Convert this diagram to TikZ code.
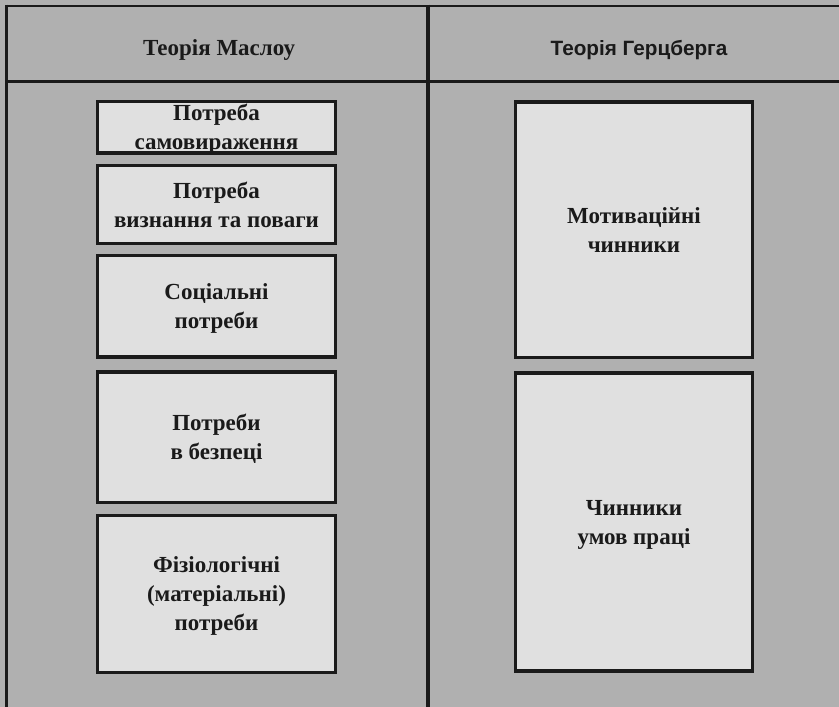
\documentclass[tikz,border=0pt]{standalone}
\usepackage{fontspec}
\setmainfont{Liberation Serif}
\newfontfamily\hsans{Liberation Sans}
\definecolor{bgc}{HTML}{B0B0B0}
\definecolor{boxc}{HTML}{E0E0E0}
\definecolor{linec}{HTML}{1A1A1A}
\tikzset{
  boxnode/.style={draw=linec, fill=boxc, line width=3.3pt, inner sep=0pt, outer sep=0pt,
    align=center, text=linec, text depth=0pt, font=\bfseries\fontsize{23}{29}\selectfont},
  frameline/.style={draw=linec}
}
\begin{document}
\begin{tikzpicture}[x=1pt,y=-1pt]
\fill[bgc] (0,0) rectangle (839,707);
\useasboundingbox (0,0) rectangle (839,707);
% frame
\draw[frameline, line width=2.5pt] (5,5.8) -- (839,5.8);
\draw[frameline, line width=3pt] (6.3,4.5) -- (6.3,707);
\draw[frameline, line width=3.5pt] (6.3,81.5) -- (839,81.5);
\draw[frameline, line width=4.5pt] (428,4.5) -- (428,707);
% headers
\node[anchor=base, text=linec, font=\bfseries\fontsize{23}{26}\selectfont, inner sep=0pt] (hl) at (219,55) {Теорія Маслоу};
\node[anchor=base, text=linec, font=\hsans\bfseries\fontsize{20.7}{26}\selectfont, inner sep=0pt] (hr) at (639,55) {Теорія Герцберга};
% left boxes
\node[boxnode, minimum width=238pt, minimum height=51.5pt] (m1) at (216.5,127.25) {Потреба\\самовираження};
\node[boxnode, minimum width=238pt, minimum height=78pt] (m2) at (216.5,204.5) {Потреба\\визнання та поваги};
\node[boxnode, minimum width=238pt, minimum height=101.5pt] (m3) at (216.5,306.25) {Соціальні\\потреби};
\node[boxnode, minimum width=238pt, minimum height=130.5pt] (m4) at (216.5,437.25) {Потреби\\в безпеці};
\node[boxnode, minimum width=238pt, minimum height=157pt] (m5) at (216.5,594) {Фізіологічні\\(матеріальні)\\потреби};
% right boxes
\node[boxnode, minimum width=237pt, minimum height=255.5pt] (h1) at (634,229.75) {Мотиваційні\\чинники};
\node[boxnode, minimum width=237pt, minimum height=298pt] (h2) at (634,522) {Чинники\\умов праці};
\end{tikzpicture}
\end{document}
